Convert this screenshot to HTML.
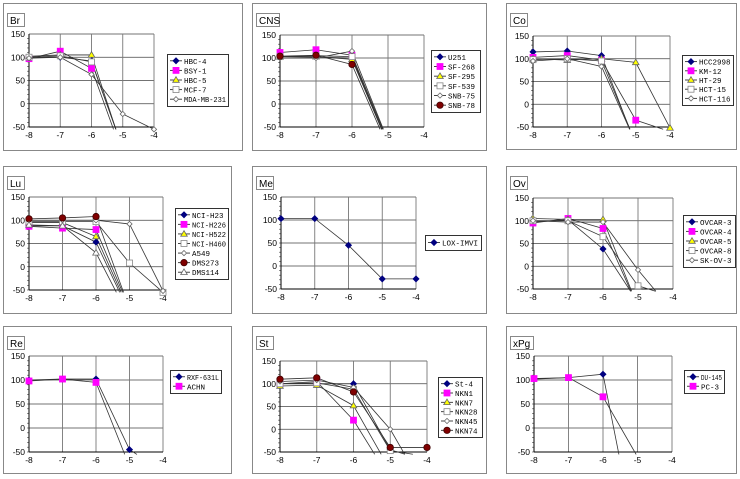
<!DOCTYPE html>
<html><head><meta charset="utf-8"><style>
html,body{margin:0;padding:0;background:#fff;width:740px;height:479px;overflow:hidden;font-family:"Liberation Sans","Noto Sans CJK JP",sans-serif}
svg{display:block;overflow:hidden}
</style></head><body>
<svg id="c" width="740" height="479" viewBox="0 0 740 479"></svg>
<script>
const xValues=[-8,-7,-6,-5,-4];
const yTicks=[150,100,50,0,-50];
const xTickLabels=['-8','-7','-6','-5','-4'];
// panel data
const brNames=['HBC-4','BSY-1','HBC-5','MCF-7','MDA-MB-231'];
const brValues=[[100,100,92,-97,null],[97,113,76,-110,null],[102,105,105,-100,null],[100,103,90,-95,null],[98,100,63,-22,-55]];
const cnsNames=['U251','SF-268','SF-295','SF-539','SNB-75','SNB-78'];
const cnsValues=[[103,102,100,-88,null],[112,118,106,-82,null],[103,103,97,-88,null],[103,105,103,-86,null],[100,100,115,-80,null],[104,106,86,-95,null]];
const coNames=['HCC2998','KM-12','HT-29','HCT-15','HCT-116'];
const coValues=[[115,117,107,-90,null],[103,107,97,-35,-60],[100,97,100,92,-52],[98,100,95,-85,null],[95,100,83,-85,null]];
const luNames=['NCI-H23','NCI-H226','NCI-H522','NCI-H460','A549','DMS273','DMS114'];
const luValues=[[88,88,53,-100,null],[87,83,80,-90,null],[95,95,65,-95,null],[97,97,97,8,-55],[100,100,100,92,-52],[103,105,108,-90,null],[90,88,30,-110,null]];
const meNames=['LOX-IMVI'];
const meValues=[[103,103,45,-28,-28]];
const ovNames=['OVCAR-3','OVCAR-4','OVCAR-5','OVCAR-8','SK-OV-3'];
const ovValues=[[97,102,38,-80,null],[95,105,83,-90,null],[105,103,103,-90,null],[100,100,65,-43,-67],[100,97,97,-8,-100]];
const reNames=['RXF-631L','ACHN'];
const reValues=[[100,102,102,-45,-90],[98,102,95,-80,null]];
const stNames=['St-4','NKN1','NKN7','NKN28','NKN45','NKN74'];
const stValues=[[100,100,100,-45,-70],[100,105,20,-110,null],[95,97,52,-90,null],[100,102,88,-47,-60],[105,108,92,0,-140],[110,113,82,-40,-40]];
const pgNames=['DU-145','PC-3'];
const pgValues=[[102,105,112,-250,null],[103,105,65,-60,null]];

const panels=[
 {t:'Br',box:[3,3,239,147],p:[29,34,154,127],lg:[167,54,61,52],n:brNames,v:brValues},
 {t:'CNS',box:[252,3,234,147],p:[280,35,424,127],lg:[431,50,49,62],n:cnsNames,v:cnsValues},
 {t:'Co',box:[506,3,230,146],p:[533,36,670,127],lg:[682,55,51,50],n:coNames,v:coValues},
 {t:'Lu',box:[3,166,228,147],p:[29,197,163,290],lg:[175,208,53,71],n:luNames,v:luValues},
 {t:'Me',box:[252,166,234,147],p:[281,197,416,289],lg:[425,235,56,15],n:meNames,v:meValues},
 {t:'Ov',box:[506,166,230,147],p:[533,198,673,289],lg:[683,215,52,52],n:ovNames,v:ovValues},
 {t:'Re',box:[3,326,228,147],p:[29,356,163,452],lg:[170,370,51,23],n:reNames,v:reValues},
 {t:'St',box:[252,326,234,147],p:[280,361,427,452],lg:[438,377,44,60],n:stNames,v:stValues},
 {t:'xPg',box:[506,326,230,147],p:[534,356,672,452],lg:[684,370,40,23],n:pgNames,v:pgValues}
];
const YMIN=-55;
const NS='http://www.w3.org/2000/svg';
const svg=document.getElementById('c');
function mk(tag,at,par){const e=document.createElementNS(NS,tag);for(const k in at)e.setAttribute(k,at[k]);(par||svg).appendChild(e);return e;}
const styles=[{s:'diamond',f:'#000080',st:'#000080',r:3},{s:'square',f:'#ff00ff',st:'#ff00ff',r:3},{s:'triangle',f:'#ffff00',st:'#666',r:3.3},{s:'square',f:'#fff',st:'#888',r:3},{s:'diamond',f:'#fff',st:'#666',r:2.6},{s:'circle',f:'#800000',st:'#400000',r:3.2},{s:'triangle',f:'#fff',st:'#666',r:3.3}];
function marker(g,x,y,k){const m=styles[k];let e;
 if(m.s==='diamond')e=mk('polygon',{points:`${x},${y-m.r} ${x+m.r},${y} ${x},${y+m.r} ${x-m.r},${y}`},g);
 else if(m.s==='square')e=mk('rect',{x:x-m.r,y:y-m.r,width:2*m.r,height:2*m.r},g);
 else if(m.s==='triangle')e=mk('polygon',{points:`${x},${y-m.r} ${x+m.r},${y+m.r*0.7} ${x-m.r},${y+m.r*0.7}`},g);
 else e=mk('circle',{cx:x,cy:y,r:m.r},g);
 e.setAttribute('fill',m.f);e.setAttribute('stroke',m.st);e.setAttribute('stroke-width','0.8');
 
 
 return e;}
panels.forEach((P,pi)=>{
 const g=mk('g',{});
 
 
 const [bx,by,bw,bh]=P.box;
 mk('rect',{x:bx+.5,y:by+.5,width:bw,height:bh,fill:'#fff',stroke:'#888','stroke-width':1},g);
 const tb=mk('g',{},g);
 
 
 const tw=P.t.length*6+5;
 mk('rect',{x:bx+4.5,y:by+10.5,width:tw,height:13,fill:'#fff',stroke:'#888'},tb);
 const tt=mk('text',{x:bx+7,y:by+21,'font-size':10,fill:'#000'},tb);tt.textContent=P.t;
 const [x0,y0,x1,y1]=P.p;
 const sx=v=>x0+(v-(-8))/4*(x1-x0);
 const sy=v=>y0+(150-v)/200*(y1-y0);
 yTicks.forEach(t=>{mk('line',{x1:x0,x2:x1,y1:sy(t),y2:sy(t),stroke:'#444','stroke-width':0.8},g);
  const l=mk('text',{x:x0-4,y:sy(t)+3,'font-size':8.5,'text-anchor':'end',fill:'#000'},g);l.textContent=t;
  
  });
 for(let t=-50;t<150;t+=10)mk('line',{x1:x0-2,x2:x0,y1:sy(t),y2:sy(t),stroke:'#444','stroke-width':0.6},g);
 xValues.forEach((v,i)=>{mk('line',{x1:sx(v),x2:sx(v),y1:y0,y2:y1,stroke:i===0?'#000':'#777','stroke-width':i===0?1:0.9},g);
  const l=mk('text',{x:sx(v),y:y1+11,'font-size':8.5,'text-anchor':'middle',fill:'#000'},g);l.textContent=xTickLabels[i];
  
  });
 mk('line',{x1:x0,x2:x1,y1:y1,y2:y1,stroke:'#000','stroke-width':1},g);
 P.v.forEach((vals,si)=>{
  const pts=[];
  for(let i=0;i<vals.length;i++){const v=vals[i];if(v===null)break;
   if(v<YMIN){const pv=vals[i-1];const xv=xValues[i-1]+(pv-YMIN)/(pv-v)*(xValues[i]-xValues[i-1]);pts.push([sx(xv),sy(YMIN)]);break;}
   pts.push([sx(xValues[i]),sy(v)]);}
  const pl=mk('polyline',{points:pts.map(p=>p.join(',')).join(' '),fill:'none',stroke:'#333','stroke-width':0.8},g);
  
  
 });
 P.v.forEach((vals,si)=>{vals.forEach((v,i)=>{if(v!==null&&v>=YMIN&&v<=150)marker(g,sx(xValues[i]),sy(v),si);});});
 const [lx,ly,lw,lh]=P.lg;
 const lg=mk('g',{},g);
 
 
 mk('rect',{x:lx+.5,y:ly+.5,width:lw,height:lh,fill:'#fff',stroke:'#000','stroke-width':0.8},lg);
 const step=(lh-4)/P.n.length;
 P.n.forEach((nm,i)=>{const yy=ly+2+step*(i+0.5);
  const e=mk('g',{},lg);
  
  
  mk('line',{x1:lx+3,x2:lx+15,y1:yy,y2:yy,stroke:'#333','stroke-width':0.9},e);
  marker(e,lx+9,yy,i);
  const avail=lw-19;
  const t=mk('text',{x:lx+17,y:yy+3,'font-size':7.5,'font-family':'Liberation Mono, monospace',fill:'#000'},e);t.textContent=nm;
  if(nm.length*4.5>avail){t.setAttribute('textLength',avail);t.setAttribute('lengthAdjust','spacingAndGlyphs');}
 });
});
</script>
</body></html>
